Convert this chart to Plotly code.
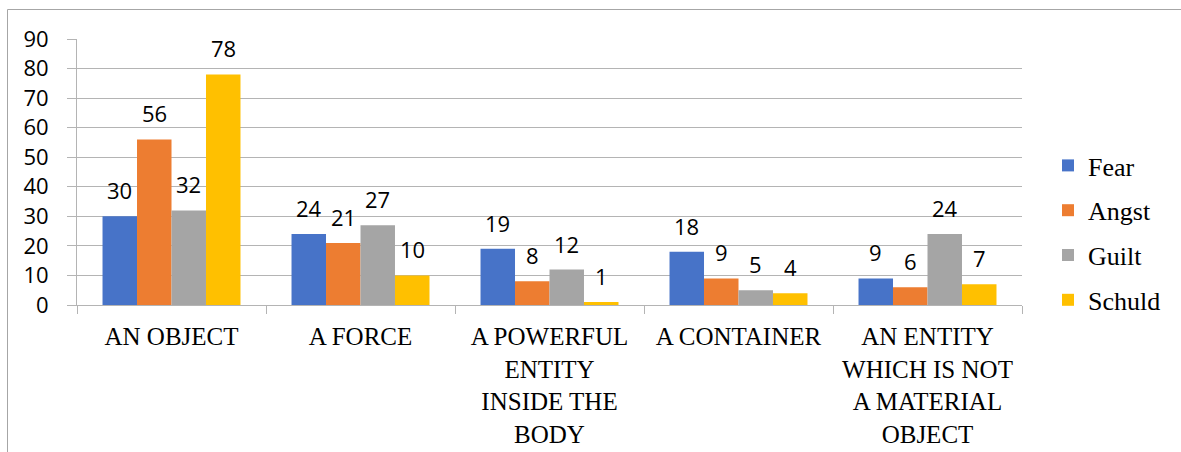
import plotly.graph_objects as go

categories = ["AN OBJECT", "A FORCE", "A POWERFUL<br>ENTITY<br>INSIDE THE<br>BODY",
              "A CONTAINER", "AN ENTITY<br>WHICH IS NOT<br>A MATERIAL<br>OBJECT"]
fear = [30, 24, 19, 18, 9]
angst = [56, 21, 8, 9, 6]
guilt = [32, 27, 12, 5, 24]
schuld = [78, 10, 1, 4, 7]
series_names = ["Fear", "Angst", "Guilt", "Schuld"]
series_values = [fear, angst, guilt, schuld]
colors = ["#4773C8", "#ED7D31", "#A5A5A5", "#FFC000"]

W, H = 1181, 452
ML, MR, MT, MB = 77, 159, 39, 147
BARGAP = 0.27

fig = go.Figure()
for i, (name, vals) in enumerate(zip(series_names, series_values)):
    fig.add_trace(go.Bar(
        x=categories, y=vals, name=name, legendgroup=name,
        marker=dict(color=colors[i], line=dict(width=0)),
    ))

plot_w = W - ML - MR
plot_h = H - MT - MB
bar_w = plot_w / len(categories) * (1 - BARGAP) / len(series_names)
annotations = []
for i, vals in enumerate(series_values):
    for c, v in zip(categories, vals):
        annotations.append(dict(
            x=c, y=v, xref="x", yref="y", text=str(v), showarrow=False,
            xshift=(i - 1.5) * bar_w, yshift=26, yanchor="middle",
            font=dict(family="Open Sans", size=22, color="#000000"),
        ))

fig.update_layout(
    width=W, height=H,
    margin=dict(l=ML, r=MR, t=MT, b=MB, autoexpand=False),
    paper_bgcolor="white", plot_bgcolor="white",
    barmode="group", bargap=BARGAP, bargroupgap=0,
    annotations=annotations,
    legend=dict(
        x=(1048 - ML) / plot_w, y=(305 - 233) / plot_h, xanchor="left", yanchor="middle",
        font=dict(family="Liberation Serif", size=26, color="#000000"),
        traceorder="grouped", tracegroupgap=8, bgcolor="rgba(0,0,0,0)",
    ),
    showlegend=True,
    shapes=[dict(
        type="rect", xref="paper", yref="paper",
        x0=(7.5 - ML) / plot_w, x1=(1195 - ML) / plot_w,
        y0=(305 - 470) / plot_h, y1=(305 - 9.5) / plot_h,
        line=dict(color="#a6a6a6", width=1), fillcolor="rgba(0,0,0,0)", layer="below",
    )],
)
fig.update_yaxes(
    range=[0, 90], dtick=10, showgrid=True, gridcolor="#b4b4b4", gridwidth=1,
    showline=True, linecolor="#b4b4b4", linewidth=1,
    ticks="outside", ticklen=9, tickcolor="#b4b4b4",
    ticklabelstandoff=14, automargin=False,
    tickfont=dict(family="Open Sans", size=22, color="#000000"),
    zeroline=False,
)
fig.update_xaxes(
    showline=True, linecolor="#b4b4b4", linewidth=1,
    ticks="outside", ticklen=8, tickcolor="#b4b4b4", tickson="boundaries",
    ticklabelstandoff=9, automargin=False,
    tickfont=dict(family="Liberation Serif", size=25, color="#000000"),
    tickangle=0, showgrid=False,
)

fig.write_html("out.html", config={"displayModeBar": False},
               post_script="document.body.style.margin='0';document.body.style.overflow='hidden';")
